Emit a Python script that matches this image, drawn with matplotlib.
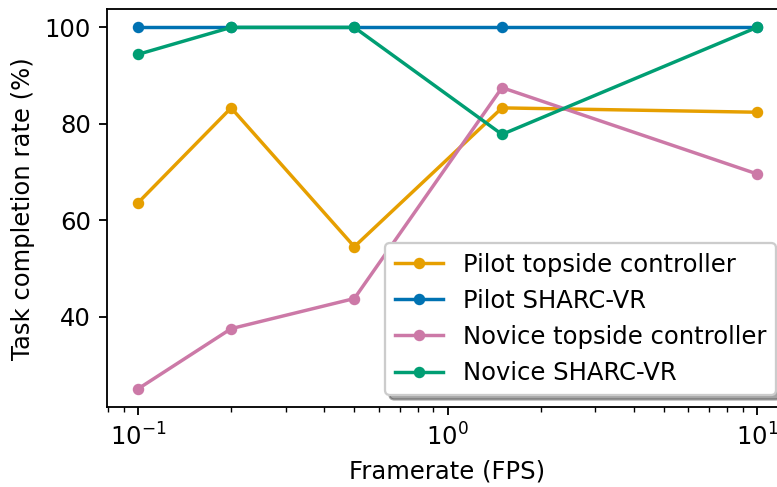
import matplotlib
matplotlib.use("Agg")
import matplotlib.pyplot as plt

# Framerates tested (frames per second)
framerate = [0.1, 0.2, 0.5, 1.5, 10]

# Task completion rate (%) per condition
pilot_topside = [63.6, 83.3, 54.5, 83.3, 82.4]
pilot_sharc = [100, 100, 100, 100, 100]
novice_topside = [25.0, 37.5, 43.75, 87.5, 69.6]
novice_sharc = [94.4, 100, 100, 77.8, 100]

series_labels = ["Pilot topside controller", "Pilot SHARC-VR",
                 "Novice topside controller", "Novice SHARC-VR"]
series_colors = ["#E69F00", "#0072B2", "#CC79A7", "#009E73"]

plt.rcParams["font.size"] = 10.6

dpi = 165
fig = plt.figure(figsize=(777 / dpi, 487 / dpi), dpi=dpi)
ax = fig.add_axes([107 / 777, 80 / 487, 681 / 777, 397.7 / 487])

for values, label, color in zip(
        [pilot_topside, pilot_sharc, novice_topside, novice_sharc],
        series_labels, series_colors):
    ax.plot(framerate, values, marker="o", markersize=4, color=color, label=label)

ax.set_xscale("log")
ax.set_xlabel("Framerate (FPS)")
ax.set_ylabel("Task completion rate (%)")
ax.set_yticks([40, 60, 80, 100])
ax.spines["right"].set_visible(False)
ax.legend(loc="lower right", shadow=True)

fig.savefig("out.png", dpi=dpi)
